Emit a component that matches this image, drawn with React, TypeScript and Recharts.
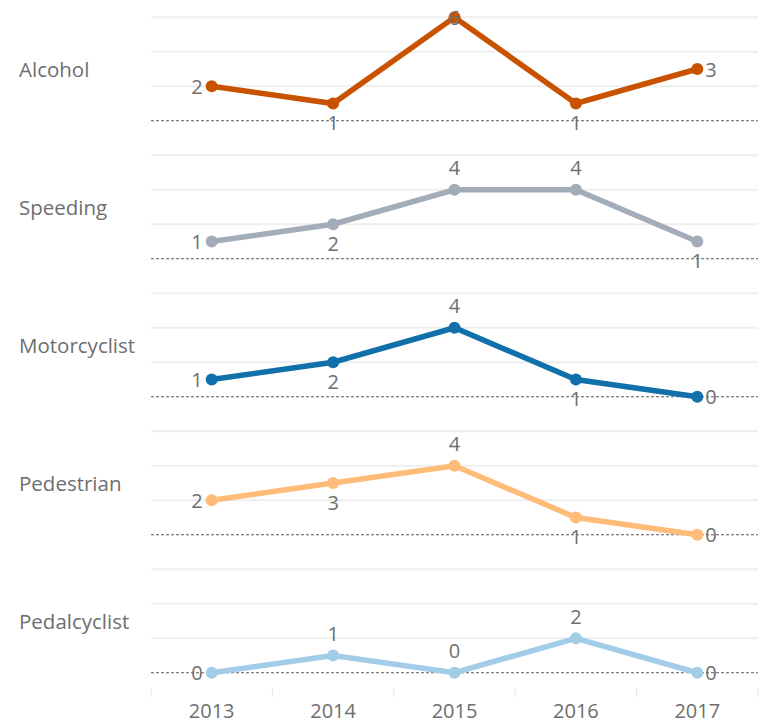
import { LineChart, Line, XAxis, YAxis, ReferenceLine, LabelList } from "recharts";

const years = ["2013", "2014", "2015", "2016", "2017"];

const alcohol = [2, 1, 6, 1, 3];
const speeding = [1, 2, 4, 4, 1];
const motorcyclist = [1, 2, 4, 1, 0];
const pedestrian = [2, 3, 4, 1, 0];
const pedalcyclist = [0, 1, 0, 2, 0];

const gridValues = [2, 4, 6];

type Side = "left" | "right" | "above" | "below" | "center";

const panels: { name: string; values: number[]; color: string; sides: Side[] }[] = [
  { name: "Alcohol", values: alcohol, color: "#c85200", sides: ["left", "below", "center", "below", "right"] },
  { name: "Speeding", values: speeding, color: "#a3acb9", sides: ["left", "below", "above", "above", "below"] },
  { name: "Motorcyclist", values: motorcyclist, color: "#1170aa", sides: ["left", "below", "above", "below", "right"] },
  { name: "Pedestrian", values: pedestrian, color: "#ffbc79", sides: ["left", "below", "above", "below", "right"] },
  { name: "Pedalcyclist", values: pedalcyclist, color: "#a3cce9", sides: ["left", "above", "above", "above", "right"] },
];

const FONT = "'Open Sans', sans-serif";
const TEXT = "#6e6e6e";
const W = 759;
const PANEL_H = 138;
const AXIS_H = 33;
const LEFT = 151;
const BAND = (W - LEFT - 1) / years.length;

// label placement around each point, same as the original layout
function valueLabel(sides: Side[]) {
  return (props: any) => {
    const { x, y, value, index } = props;
    const side = sides[index];
    let tx = x;
    let ty = y;
    let anchor: "start" | "middle" | "end" = "middle";
    if (side === "left") {
      tx = x - 9;
      anchor = "end";
    } else if (side === "right") {
      tx = x + 8;
      anchor = "start";
    } else if (side === "above") {
      ty = y - 22;
    } else if (side === "below") {
      ty = y + 19;
    }
    return (
      <text
        x={tx}
        y={ty}
        textAnchor={anchor}
        dominantBaseline="central"
        fill={TEXT}
        fontSize={20}
        fontFamily={FONT}
      >
        {value}
      </text>
    );
  };
}

function YearTick(props: any) {
  const { x, y, payload, index } = props;
  const last = index === years.length - 1;
  return (
    <g>
      <line x1={x - BAND / 2} x2={x - BAND / 2} y1={y - 2} y2={y + 7} stroke="#e6e6e6" />
      {last && <line x1={x + BAND / 2} x2={x + BAND / 2} y1={y - 2} y2={y + 7} stroke="#e6e6e6" />}
      <text x={x} y={y + 20} textAnchor="middle" dominantBaseline="central" fill={TEXT} fontSize={20} fontFamily={FONT}>
        {payload.value}
      </text>
    </g>
  );
}

function Panel({ name, values, color, sides, withAxis }: any) {
  const data = years.map((year, i) => ({ year, value: values[i] }));
  const height = PANEL_H + (withAxis ? AXIS_H : 0);
  return (
    <div style={{ position: "relative", width: W, height }}>
      <div
        style={{
          position: "absolute",
          left: 19,
          top: 0,
          height: PANEL_H,
          display: "flex",
          alignItems: "center",
          fontFamily: FONT,
          fontSize: 20.5,
          color: TEXT,
        }}
      >
        {name}
      </div>
      <LineChart width={W} height={height} data={data} margin={{ top: 0, right: 1, bottom: 0, left: LEFT }}>
        <XAxis
          dataKey="year"
          hide={!withAxis}
          height={AXIS_H}
          padding={{ left: BAND / 2, right: BAND / 2 }}
          axisLine={false}
          tickLine={false}
          tickSize={0}
          tickMargin={0}
          tick={<YearTick />}
          interval={0}
        />
        <YAxis hide type="number" domain={[-1, 7]} allowDataOverflow />
        {gridValues.map((v) => (
          <ReferenceLine key={v} y={v} stroke="#eeeeee" strokeWidth={2} />
        ))}
        <ReferenceLine y={0} stroke="#5a5a5a" strokeDasharray="3 2" strokeWidth={1} />
        <Line
          type="linear"
          dataKey="value"
          stroke={color}
          strokeWidth={5.5}
          dot={{ r: 6, fill: color, stroke: color, strokeWidth: 0 }}
          activeDot={false}
          isAnimationActive={false}
        >
          <LabelList dataKey="value" content={valueLabel(sides)} />
        </Line>
      </LineChart>
    </div>
  );
}

export default function App() {
  return (
    <div style={{ position: "absolute", left: 0, top: 0, width: W, height: 723, background: "#ffffff" }}>
      {panels.map((p, i) => (
        <Panel key={p.name} {...p} withAxis={i === panels.length - 1} />
      ))}
    </div>
  );
}
